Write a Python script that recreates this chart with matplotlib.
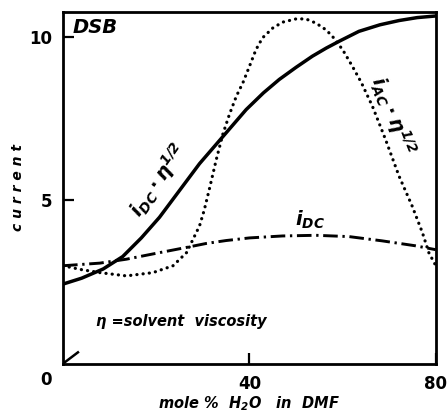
import numpy as np
import matplotlib.pyplot as plt
from matplotlib.lines import Line2D

plt.rcParams['font.family'] = ['DejaVu Sans']
plt.rcParams['mathtext.fontset'] = 'custom'
plt.rcParams['mathtext.rm'] = 'DejaVu Sans:bold:italic'
plt.rcParams['mathtext.it'] = 'DejaVu Sans:bold:italic'
plt.rcParams['mathtext.bf'] = 'DejaVu Sans:bold:italic'

# i_DC * eta^1/2 (solid)
x_dc_eta = [0, 4, 8.6, 12.8, 16.8, 20.7, 25.0, 29.3, 35.0, 39.3, 43.0, 46.4,
            50.0, 53.5, 56.5, 59.3, 63.5, 68.0, 72.1, 76.0, 80]
y_dc_eta = [2.44, 2.62, 2.90, 3.28, 3.85, 4.48, 5.30, 6.12, 7.06, 7.77, 8.28,
            8.69, 9.06, 9.40, 9.65, 9.86, 10.16, 10.36, 10.49, 10.58, 10.63]

# i_AC * eta^1/2 (dotted)
x_ac_eta = [0, 4.0, 7.9, 13.6, 19.3, 23.6, 26.5, 27.9, 29.3, 30.3, 31.4, 32.9,
            34.3, 35.7, 37.2, 38.6, 40.0, 41.4, 42.8, 45.0, 47.1, 50.0, 52.1,
            54.3, 56.4, 57.8, 60.0, 62.1, 64.0, 66.4, 69.2, 72.1, 74.9, 77.1,
            78.5, 80]
y_ac_eta = [3.0, 2.88, 2.79, 2.69, 2.79, 3.0, 3.40, 3.81, 4.22, 4.70, 5.34,
            6.25, 7.02, 7.62, 8.18, 8.59, 9.09, 9.60, 9.96, 10.26, 10.44,
            10.54, 10.54, 10.41, 10.21, 10.01, 9.60, 9.09, 8.60, 7.87, 6.86,
            5.74, 4.83, 4.02, 3.40, 3.0]

# i_DC (dash-dot)
x_dc = [0, 7.9, 13.6, 20.7, 26.5, 30.7, 35.0, 40, 47.1, 54.3, 61.4, 68.5,
        75.6, 80]
y_dc = [3.0, 3.08, 3.20, 3.40, 3.56, 3.68, 3.77, 3.85, 3.91, 3.93, 3.89,
        3.76, 3.61, 3.49]

fig = plt.figure(figsize=(4.47, 4.15), dpi=100)
ax = fig.add_axes([0.141, 0.123, 0.834, 0.848])

ax.plot(x_dc_eta, y_dc_eta, color='black', lw=2.5, solid_capstyle='round',
        solid_joinstyle='round')
ax.plot(x_ac_eta, y_ac_eta, color='black', lw=2.3, dash_capstyle='round',
        linestyle=(0, (0.05, 1.9)))
ax.plot(x_dc, y_dc, color='black', lw=2.1, linestyle=(0, (5, 1.6, 0.8, 1.6)))

ax.set_xlim(0, 80)
ax.set_ylim(0, 10.75)
ax.set_xticks([40, 80])
ax.set_xticklabels(['40', '80'])
ax.set_yticks([5, 10])
ax.set_yticklabels(['5', '10'])
ax.tick_params(direction='in', length=8, width=1.6, labelsize=12, pad=8)
for lab in ax.get_xticklabels() + ax.get_yticklabels():
    lab.set_fontweight('bold')
for sp in ax.spines.values():
    sp.set_linewidth(2.0)

ax.text(-0.045, -0.045, '0', transform=ax.transAxes, fontsize=12,
        fontweight='bold', ha='center', va='center')
ax.add_line(Line2D([0.005, 0.04], [0.005, 0.033], transform=ax.transAxes,
                   color='black', lw=1.8))

ax.set_xlabel(r'mole %  H$_{2}$O   in  DMF', fontsize=10.5, fontweight='bold',
              style='italic', labelpad=1)
ax.set_ylabel('c u r r e n t', fontsize=10, fontweight='bold', style='italic',
              labelpad=3)

ax.text(0.025, 0.955, 'DSB', transform=ax.transAxes, fontsize=14,
        fontweight='bold', style='italic', ha='left', va='center')
ax.text(20.5, 5.6, r'$i_{DC}\cdot\eta^{1/2}$', fontsize=14, rotation=55,
        ha='center', va='center')
ax.text(70.8, 7.6, r'$i_{AC}\cdot\eta^{1/2}$', fontsize=14, rotation=-68,
        ha='center', va='center')
ax.text(53, 4.4, r'$i_{DC}$', fontsize=14, ha='center', va='center')
ax.text(7.0, 1.3, r'η =solvent  viscosity', fontsize=10.5, fontweight='bold',
        style='italic', ha='left', va='center')

fig.savefig('out.png', dpi=100)
